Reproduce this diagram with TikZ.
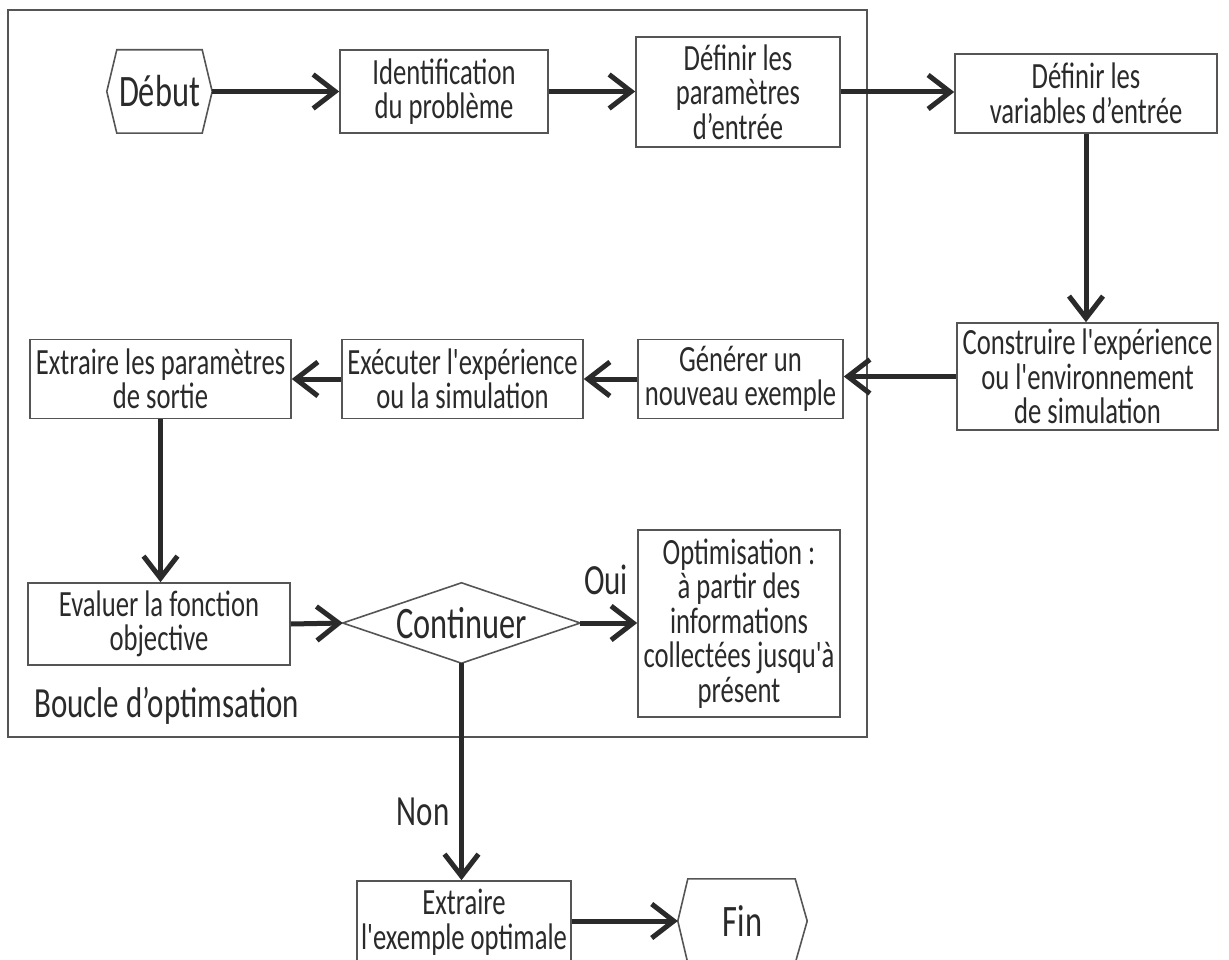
\documentclass[tikz,border=0pt]{standalone}
\usepackage{fontspec}
\setmainfont[FakeStretch=0.72, Ligatures=TeXOff]{Carlito}
\usetikzlibrary{arrows.meta}
\definecolor{ink}{HTML}{2A2A2A}
\definecolor{frame}{HTML}{555555}
\tikzset{
  txt/.style={font=\fontsize{37}{34.5}\selectfont, text=ink, align=center, inner sep=0pt},
  bigtxt/.style={font=\fontsize{45}{38}\selectfont, text=ink, align=center, inner sep=0pt},
  lbl/.style={font=\fontsize{43}{36}\selectfont, text=ink, inner sep=0pt},
  box/.style={txt, draw=frame, line width=1.6pt, minimum width=#1},
  shapeline/.style={draw=frame, line width=1.6pt},
  flow/.style={draw=ink, line width=5pt, -{Straight Barb[length=22pt,width=34pt]}},
}
\begin{document}
\begin{tikzpicture}[x=1pt,y=-1pt]
\useasboundingbox (0,0) rectangle (1229,960);
\clip (0,0) rectangle (1229,960);
% outer loop frame
\draw[draw=frame, line width=2pt] (8,10) rectangle (867,737);
% Début
\node[bigtxt, minimum width=105pt, minimum height=83pt] (debut) at (159.5,91.5) {Début};
\draw[shapeline] (debut.west) -- ([xshift=10pt]debut.north west) -- ([xshift=-10pt]debut.north east) -- (debut.east) -- ([xshift=-10pt]debut.south east) -- ([xshift=10pt]debut.south west) -- cycle;
% boxes
\node[box=208pt, minimum height=83pt] (ident) at (444,91.5) {Identification\\du problème};
\node[box=204pt, minimum height=110pt] (param) at (738,92) {Définir les\\paramètres\\d’entrée};
\node[box=262pt, minimum height=79pt] (var) at (1086,93.5) {Définir les\\variables d’entrée};
\node[box=261pt, minimum height=107pt] (constr) at (1087.5,376.5) {Construire l'expérience\\ou l'environnement\\de simulation};
\node[box=205pt, minimum height=79pt] (gen) at (740.5,379) {Générer un\\nouveau exemple};
\node[box=241pt, minimum height=79pt] (exec) at (462.5,379) {Exécuter l'expérience\\ou la simulation};
\node[box=261pt, minimum height=79pt] (extr) at (160.5,379) {Extraire les paramètres\\de sortie};
\node[box=262pt, minimum height=82pt] (eval) at (159,624) {Evaluer la fonction\\objective};
% diamond
\node[bigtxt, minimum width=237pt, minimum height=80pt] (cont) at (461.5,623) {Continuer};
\draw[shapeline] (cont.west) -- (cont.north) -- (cont.east) -- (cont.south) -- cycle;
\node[box=202pt, minimum height=187pt] (optim) at (739,623.5) {Optimisation :\\à partir des\\informations\\collectées jusqu'à\\présent};
\node[box=214pt, minimum height=82pt] (extropt) at (464,922) {Extraire\\l'exemple optimale};
% Fin
\node[bigtxt, minimum width=129pt, minimum height=84pt] (fin) at (742.5,921) {Fin};
\draw[shapeline] (fin.west) -- ([xshift=10pt]fin.north west) -- ([xshift=-12pt]fin.north east) -- (fin.east) -- ([xshift=-12pt]fin.south east) -- ([xshift=10pt]fin.south west) -- cycle;
% labels
\node[lbl] (oui) at (606,580) {Oui};
\node[lbl] (non) at (423,812) {Non};
\node[lbl, anchor=west] (boucle) at (34,706) {Boucle d’optimsation};
% connectors
\draw[flow] (debut.east) -- (ident.west);
\draw[flow] (ident.east) -- (ident.east -| param.west);
\draw[flow] (param.east) -- (param.east -| var.west);
\draw[flow] (var.south) -- (var.south |- constr.north);
\draw[flow] (constr.west) -- (constr.west -| gen.east);
\draw[flow] (gen.west) -- (exec.east);
\draw[flow] (exec.west) -- (extr.east);
\draw[flow] (extr.south) -- (extr.south |- eval.north);
\draw[flow] (eval.east) -- (cont.west);
\draw[flow] (cont.east) -- (cont.east -| optim.west);
\draw[flow] (cont.south) -- (cont.south |- extropt.north);
\draw[flow] (extropt.east |- fin.west) -- (fin.west);
\end{tikzpicture}
\end{document}
